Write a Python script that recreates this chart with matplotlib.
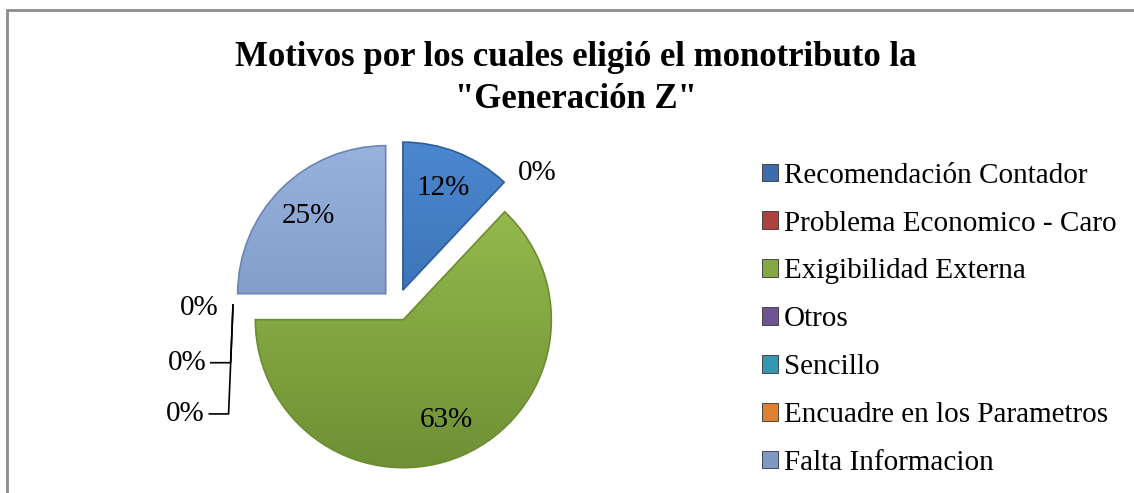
import matplotlib
matplotlib.use("Agg")
import matplotlib.pyplot as plt
import numpy as np
from matplotlib.patches import Rectangle

plt.rcParams["font.family"] = ["Liberation Serif", "DejaVu Serif"]

# data
categories = [
    "Recomendación Contador",
    "Problema Economico - Caro",
    "Exigibilidad Externa",
    "Otros",
    "Sencillo",
    "Encuadre en los Parametros",
    "Falta Informacion",
]
shares = [12, 0, 63, 0, 0, 0, 25]
pct_labels = ["12%", "0%", "63%", "0%", "0%", "0%", "25%"]

# office-like palette: (top, bottom) gradient for slices, flat for legend
slice_top = ["#4d8ad2", "#c95a57", "#a0c855", "#8a6cb0", "#4bb4d0", "#f59a4a", "#9ab5e0"]
slice_bot = ["#2c5d9c", "#963a37", "#6c8c32", "#5b4580", "#2b8099", "#c06a20", "#6a85b3"]
legend_cols = ["#3c6cae", "#b0403d", "#86a844", "#6e5494", "#3598b2", "#e07f2e", "#7e98c4"]

W, H, DPI = 1134, 493, 100
FS = 21
fig = plt.figure(figsize=(W / DPI, H / DPI), dpi=DPI)

# chart frame (only left/top edges fall inside the image)
fig.patches.append(Rectangle((7 / W, -0.1), 1.2, (H - 10) / H + 0.1,
                             transform=fig.transFigure, fill=False,
                             edgecolor="#8c8c8c", lw=2))

fig.text(576 / W, 1 - 57 / H, "Motivos por los cuales eligió el monotributo la",
         ha="center", va="center", fontsize=25, fontweight="bold")
fig.text(576 / W, 1 - 99 / H, "\"Generación Z\"",
         ha="center", va="center", fontsize=25, fontweight="bold")

# pie axes: centre at (397, 305) px, radius 148 px
R = 148
half = 1.25 * R
cx, cy = 397, 305
ax = fig.add_axes([(cx - half) / W, (H - cy - half) / H, 2 * half / W, 2 * half / H])
ax.set_xlim(-1.25, 1.25)
ax.set_ylim(-1.25, 1.25)
ax.set_aspect("equal")
ax.axis("off")

EXPL = 0.108
wedges, _ = ax.pie(shares, startangle=90, counterclock=False,
                   explode=[EXPL] * len(shares), colors=slice_top,
                   wedgeprops=dict(linewidth=0), radius=1.0)

# vertical gradient inside each wedge
grad = np.linspace(0, 1, 256).reshape(-1, 1)
for w, ct, cb in zip(wedges, slice_top, slice_bot):
    if w.theta2 - w.theta1 < 1e-6:
        continue
    cmap = matplotlib.colors.LinearSegmentedColormap.from_list("g", [cb, ct])
    im = ax.imshow(grad, cmap=cmap, origin="lower", extent=(-1.25, 1.25, -1.25, 1.25),
                   aspect="auto", zorder=w.get_zorder() + 0.1)
    im.set_clip_path(w)
    w.set_facecolor("none")
    w.set_edgecolor(cb)
    w.set_linewidth(1.2)
    w.set_zorder(w.get_zorder() + 0.2)

# percentage labels inside non-zero slices
for w, lab in zip(wedges, pct_labels):
    if w.theta2 - w.theta1 < 1e-6:
        continue
    mid = np.deg2rad((w.theta1 + w.theta2) / 2)
    cxw, cyw = w.center
    r = 0.74
    ax.text(cxw + r * np.cos(mid), cyw + r * np.sin(mid), lab,
            ha="center", va="center", fontsize=FS, zorder=10)

# zero-slice labels
red = wedges[1]
ang = np.deg2rad(red.theta1 - 3.5)
ax.text(1.3 * np.cos(ang), 1.3 * np.sin(ang), pct_labels[1],
        ha="center", va="center", fontsize=FS)

tip = np.array([-(1 + EXPL), 0.0])
left_offsets = [(-0.085, -0.02), (-0.17, -0.39), (-0.18, -0.736)]
for (dx, dy), lab in zip(left_offsets, pct_labels[3:6]):
    lx, ly = tip[0] + dx, tip[1] + dy
    ax.text(lx - 0.01, ly, lab, ha="right", va="center", fontsize=FS)
    if dy < -0.1:
        ax.plot([lx + 0.02, tip[0] - 0.03 * (dy / -0.736), tip[0]],
                [ly, ly, tip[1]], color="black", lw=1.2, clip_on=False)

# legend
handles = [Rectangle((0, 0), 1, 1, facecolor=c, edgecolor="#333333", lw=0.6)
           for c in legend_cols]
fig.legend(handles, categories, loc="upper left",
           bbox_to_anchor=(750 / W, 1 - 151 / H), frameon=False,
           fontsize=FS, handlelength=0.55, handleheight=0.55,
           handletextpad=0.22, labelspacing=0.75, borderaxespad=0)

fig.savefig("out.png", dpi=DPI)
